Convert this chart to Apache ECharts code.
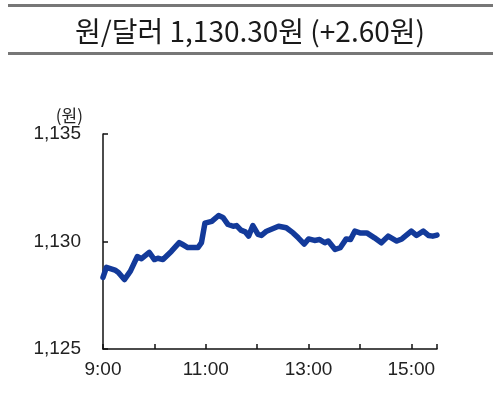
<!DOCTYPE html>
<html>
<head>
<meta charset="utf-8">
<script src="https://cdn.jsdelivr.net/npm/echarts@6/dist/echarts.min.js"></script>
<style>
  html, body { margin: 0; padding: 0; background: #fff; }
  #chart { width: 500px; height: 400px; }
</style>
</head>
<body>
<div id="chart"></div>
<script>
// 원/달러 환율 장중 추이
const times = ['9:00','9:04','9:14','9:18','9:25','9:32','9:40','9:45','9:54','10:00',
  '10:04','10:10','10:20','10:29','10:33','10:39','10:51','10:55','10:59','11:07',
  '11:15','11:20','11:26','11:32','11:36','11:41','11:46','11:50','11:55','12:01',
  '12:05','12:11','12:25','12:34','12:42','12:48','12:55','13:00','13:07','13:13',
  '13:19','13:23','13:31','13:37','13:44','13:49','13:54','14:00','14:08','14:17',
  '14:25','14:33','14:43','14:49','15:00','15:06','15:14','15:20','15:25','15:30'];
const rates = [1128.33,1128.80,1128.67,1128.56,1128.23,1128.62,1129.30,1129.20,1129.49,1129.16,
  1129.22,1129.16,1129.55,1129.95,1129.86,1129.72,1129.72,1129.95,1130.85,1130.94,
  1131.21,1131.12,1130.79,1130.71,1130.74,1130.53,1130.45,1130.25,1130.74,1130.33,
  1130.28,1130.48,1130.71,1130.64,1130.40,1130.17,1129.88,1130.12,1130.05,1130.09,
  1129.94,1130.02,1129.63,1129.71,1130.12,1130.09,1130.48,1130.40,1130.40,1130.17,
  1129.94,1130.25,1130.02,1130.12,1130.48,1130.28,1130.48,1130.28,1130.25,1130.30];
const xTickLabels = ['9:00','11:00','13:00','15:00'];
const yTickLabels = ['1,125','1,130','1,135'];

// "HH:MM" -> 9시부터 분
function toMin(t) {
  const p = t.split(':');
  return (+p[0] - 9) * 60 + (+p[1]);
}
const lineData = times.map((t, i) => [toMin(t), rates[i]]);

const font = "'Liberation Sans', Arial, sans-serif";
const krFont = "'Noto Sans CJK KR', sans-serif";
const chart = echarts.init(document.getElementById('chart'));
chart.setOption({
  animation: false,
  title: {
    text: '원/달러 1,130.30원 (+2.60원)',
    left: 'center',
    top: 12,
    textStyle: { fontSize: 28, fontWeight: 'normal', color: '#1a1a1a', fontFamily: krFont }
  },
  graphic: [
    { type: 'rect', shape: { x: 8, y: 4, width: 485, height: 3 }, style: { fill: '#777' } },
    { type: 'rect', shape: { x: 8, y: 52, width: 485, height: 3 }, style: { fill: '#777' } }
  ],
  grid: { left: 103, top: 134, right: 63, bottom: 51 },
  xAxis: {
    type: 'value',
    min: 0,
    max: 390,
    interval: 60,
    splitLine: { show: false },
    axisLine: { lineStyle: { color: '#111', width: 1.5 } },
    axisTick: { inside: true, length: 5, lineStyle: { color: '#111', width: 1.5 } },
    axisLabel: {
      color: '#222', fontSize: 19, fontFamily: font, margin: 11,
      formatter: v => {
        if (v % 120 !== 0) return '';
        return xTickLabels[v / 120] || '';
      }
    }
  },
  yAxis: {
    type: 'value',
    min: 1125,
    max: 1135,
    interval: 5,
    name: '(원)',
    nameLocation: 'end',
    nameGap: 10,
    nameTextStyle: { color: '#222', fontSize: 17, align: 'right', padding: [0, 20, 0, 0], fontFamily: krFont },
    splitLine: { show: false },
    axisLine: { show: true, lineStyle: { color: '#111', width: 1.5 } },
    axisTick: { show: true, inside: true, length: 5, lineStyle: { color: '#111', width: 1.5 } },
    axisLabel: {
      color: '#222', fontSize: 19, fontFamily: font, margin: 22,
      formatter: v => yTickLabels[(v - 1125) / 5]
    }
  },
  series: [{
    type: 'line',
    data: lineData,
    showSymbol: false,
    lineStyle: { color: '#133a9a', width: 5.5, join: 'round', cap: 'round' }
  }]
});
</script>
</body>
</html>
